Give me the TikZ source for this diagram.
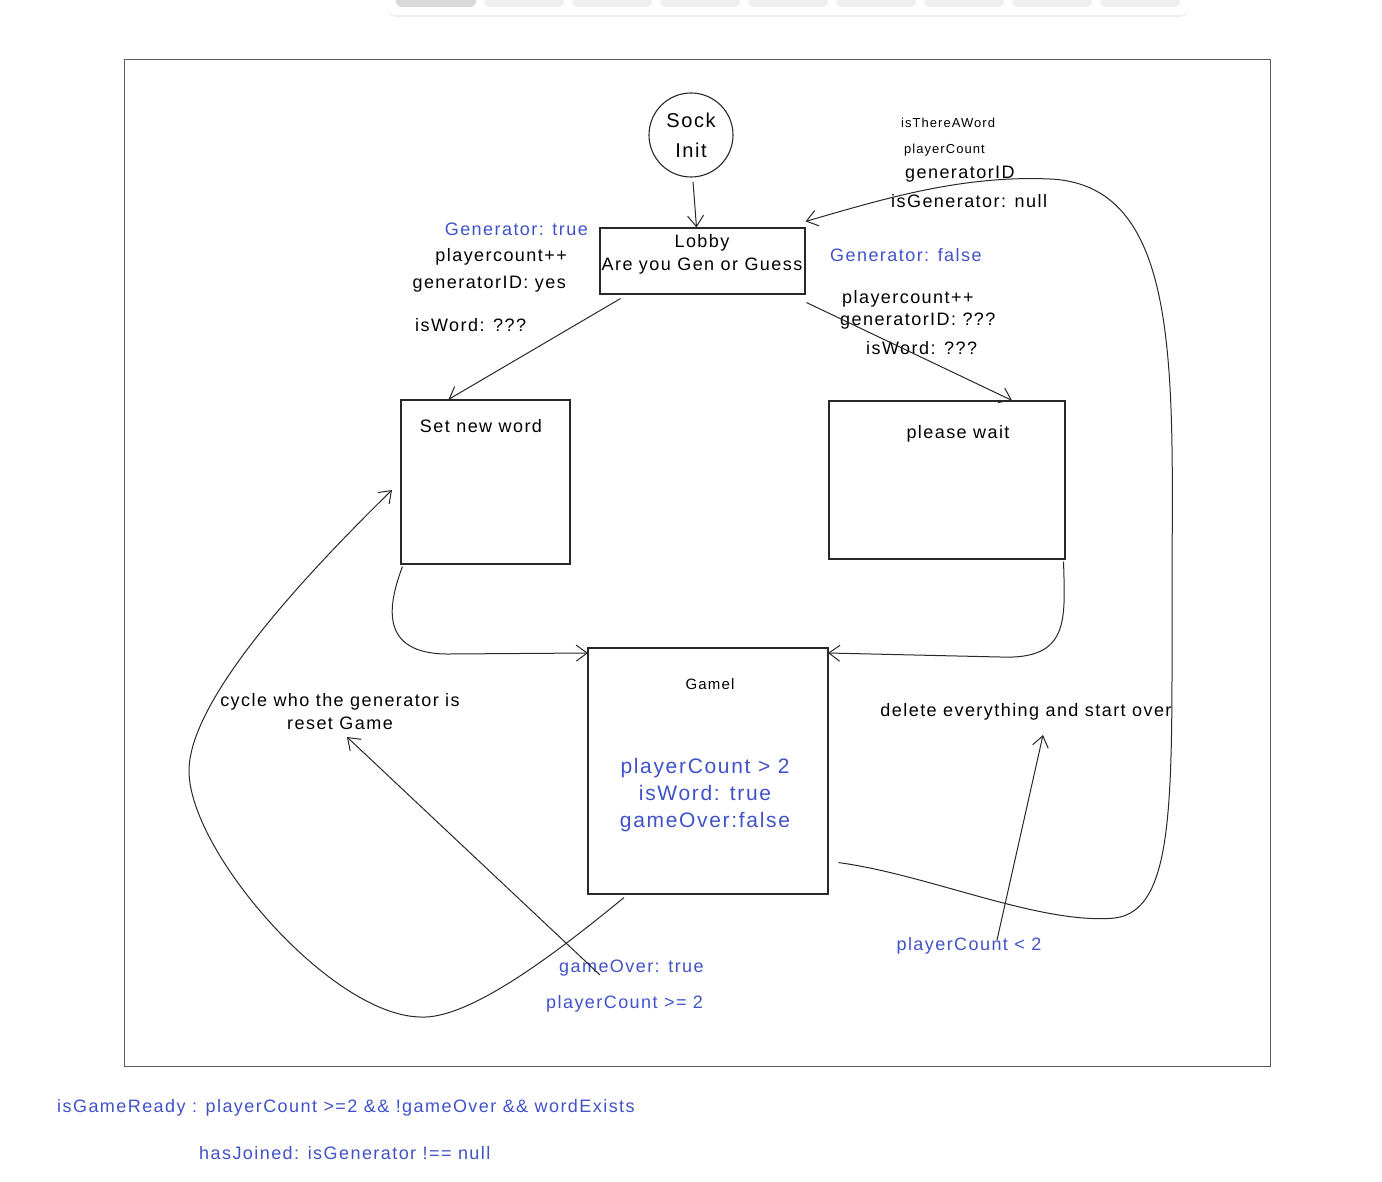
\documentclass[tikz,border=0pt]{standalone}
\usepackage{fontspec}
\setmainfont[LetterSpace=8]{Liberation Sans}
\usetikzlibrary{arrows.meta,shadows}
\definecolor{ink}{RGB}{40,40,40}
\definecolor{blu}{RGB}{64,82,200}
\definecolor{framec}{RGB}{90,90,90}
\tikzset{
  box/.style={draw=ink, line width=1.1pt, rectangle, inner sep=0pt},
  conn/.style={draw=ink, line width=1pt, -{Straight Barb[length=11pt,width=16pt,line width=1pt]}},
  lbl/.style={inner sep=0pt, text=black, font=\fontsize{18}{21}\selectfont},
  small/.style={inner sep=0pt, text=black, font=\fontsize{13}{15}\selectfont},
  blbl/.style={inner sep=0pt, text=blu, font=\fontsize{18}{21}\selectfont},
}
\begin{document}
\begin{tikzpicture}[x=1pt,y=-1pt]
\useasboundingbox (0,0) rectangle (1382,1182);
% toolbar
\node[fill=white, rounded corners=8pt, drop shadow={opacity=0.12, shadow xshift=0pt, shadow yshift=-2pt}, minimum width=800pt, minimum height=30pt, inner sep=0pt] (toolbar) at (788,0) {};
\foreach \i in {0,...,8} {
  \fill[gray!12, rounded corners=6pt] (396+88*\i,-10) rectangle ++(80,17);
}
\fill[gray!30, rounded corners=6pt] (396,-10) rectangle ++(80,17);
% frame
\node[draw=framec, line width=1pt, minimum width=1146pt, minimum height=1006pt, inner sep=0pt] (frame) at (697,563) {};
% nodes
\node[draw=ink, line width=1.1pt, circle, minimum size=84pt, inner sep=0pt, align=center, font=\fontsize{20}{30}\selectfont] (sock) at (691,135) {Sock\\Init};
\node[box, minimum width=205pt, minimum height=66pt] (lobby) at (702.5,261) {};
\node[lbl] (lobbyt1) at (702,243) {Lobby};
\node[lbl] (lobbyt2) at (702,266) {Are you Gen or Guess};
\node[box, minimum width=169pt, minimum height=164pt] (snw) at (485.5,482) {};
\node[lbl] (snwt) at (481,426) {Set new word};
\node[box, minimum width=236pt, minimum height=158pt] (wait) at (947,480) {};
\node[lbl] (waitt) at (958,434) {please wait};
\node[box, minimum width=240pt, minimum height=246pt] (game) at (708,771) {};
\node[small, font=\fontsize{15}{18}\selectfont] (gamet) at (710,684) {Gamel};
\node[blbl, align=center, font=\fontsize{21}{27}\selectfont] (gamecond) at (705,795) {playerCount > 2\\isWord: true\\gameOver:false};
% labels
\node[blbl, anchor=east] (gtrue) at (588,229) {Generator: true};
\node[lbl, anchor=east] (pc1) at (567,257) {playercount++};
\node[lbl, anchor=east] (gid1) at (566,284) {generatorID: yes};
\node[lbl, anchor=west] (isw1) at (415,325) {isWord: ???};
\node[small, anchor=west] (itaw) at (901,123) {isThereAWord};
\node[small, anchor=west] (pcs) at (904,150) {playerCount};
\node[lbl, anchor=west] (gids) at (905,174) {generatorID};
\node[lbl, anchor=west] (isgn) at (891,201) {isGenerator: null};
\node[blbl, anchor=west] (gfalse) at (830,255) {Generator: false};
\node[lbl, anchor=west] (pc2) at (842,299) {playercount++};
\node[lbl, anchor=west] (gid2) at (840,321) {generatorID: ???};
\node[lbl, anchor=west] (isw2) at (866,348) {isWord: ???};
\node[lbl, align=center, font=\fontsize{18}{23}\selectfont] (cycle) at (340,712) {cycle who the generator is\\reset Game};
\node[lbl] (delete) at (1026,712) {delete everything and start over};
\node[blbl] (pclt) at (969,946) {playerCount < 2};
\node[blbl, anchor=west] (govr) at (559,968) {gameOver: true};
\node[blbl, anchor=west] (pcge) at (546,1004) {playerCount >= 2};
\node[blbl, anchor=west] (ready) at (57,1108) {isGameReady : playerCount >=2 \&\& !gameOver \&\& wordExists};
\node[blbl, anchor=west] (joined) at (199,1153) {hasJoined: isGenerator !== null};
% coordinates for free ends
\coordinate (gtopL) at (588,653);
\coordinate (gtopR) at (828,653);
\coordinate (snwIn) at (392,490);
\coordinate (resetIn) at (347,737);
\coordinate (resetFrom) at (600,975);
\coordinate (delFrom) at (997,940);
\coordinate (delIn) at (1043,735);
% connectors
\draw[conn] (sock.south) ++(2,4) -- ([xshift=-6pt]lobby.north);
\draw[conn] ([xshift=-82pt,yshift=-4pt]lobby.south) -- ([xshift=-37pt]snw.north);
\draw[conn] ([xshift=104pt,yshift=-8pt]lobby.south) -- ([xshift=65pt]wait.north);
\draw[conn] ([xshift=2pt,yshift=-2pt]snw.south west) .. controls (390,600) and (375,655) .. (450,654) -- (gtopL);
\draw[conn] ([xshift=-2pt,yshift=-2pt]wait.south east) .. controls (1065,620) and (1070,660) .. (1000,657) -- (gtopR);
\draw[conn] ([xshift=-84pt,yshift=-3pt]game.south) .. controls (560,950) and (470,1020) .. (420,1017) .. controls (330,1015) and (188,850) .. (189,770) .. controls (190,700) and (300,580) .. (snwIn);
\draw[conn] (resetFrom) -- (resetIn);
\draw[conn] (delFrom) -- (delIn);
\draw[conn] ([xshift=10pt,yshift=32pt]game.south east) .. controls (930,875) and (1040,925) .. (1115,918) .. controls (1175,910) and (1172,800) .. (1172,600) .. controls (1172,380) and (1185,185) .. (1050,179) .. controls (960,175) and (880,200) .. ([yshift=6pt]lobby.north east);
\end{tikzpicture}
\end{document}
